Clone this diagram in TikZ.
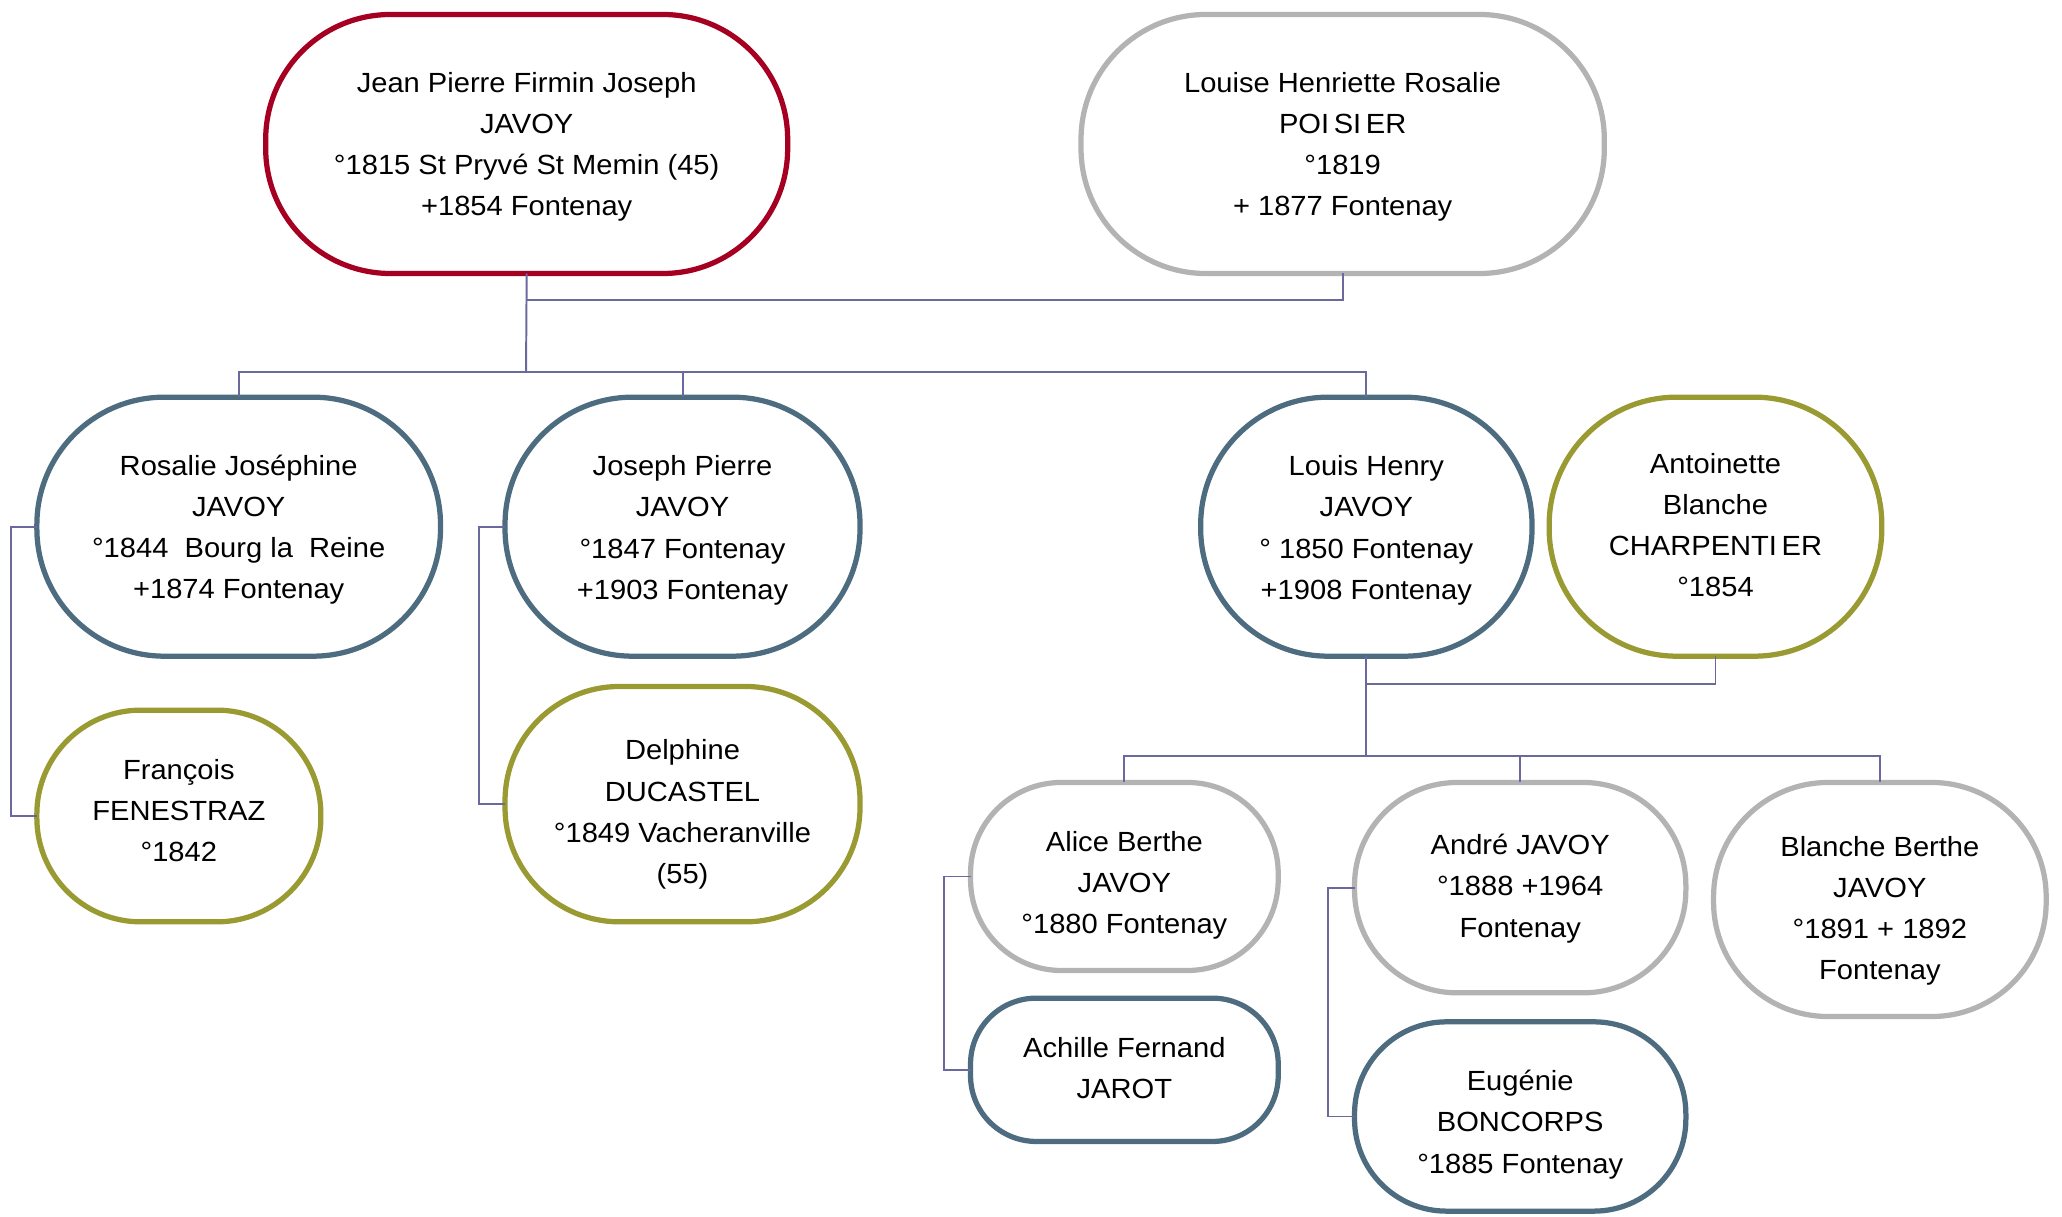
\documentclass[tikz,border=0pt]{standalone}
\usepackage{fontspec}
\setmainfont{Liberation Sans}[FakeStretch=1.05]
\definecolor{cred}{RGB}{165,0,33}
\definecolor{cgray}{RGB}{179,179,179}
\definecolor{cblue}{RGB}{77,108,128}
\definecolor{colive}{RGB}{154,154,51}
\definecolor{cline}{RGB}{107,104,158}
\newcommand\ptxt[2]{\raisebox{#1}[\height][\depth]{\begin{tabular}{@{}c@{}}#2\end{tabular}}}
\tikzset{
  pbox/.style={draw, rectangle, line width=2.27pt, fill=white,
    inner sep=0pt, outer sep=0pt,
    font=\fontsize{12}{17.8}\selectfont, text=black},
  conn/.style={draw=cline, line width=0.85pt}
}
\begin{document}
\begin{tikzpicture}[x=0.02cm, y=-0.02cm]
\useasboundingbox (0,0) rectangle (1568,925);
% generation 1
\node[pbox, draw=cred, minimum width=7.94cm, minimum height=3.94cm, rounded corners=1.9cm] (jean) at (400.5,109.5)
  {\ptxt{-0.03cm}{Jean Pierre Firmin Joseph\\JAVOY\\°1815 St Pryvé St Memin (45)\\+1854 Fontenay}};
\node[pbox, draw=cgray, minimum width=7.96cm, minimum height=3.94cm, rounded corners=1.9cm] (louise) at (1021,109.5)
  {\ptxt{-0.03cm}{Louise Henriette Rosalie\\POI\,SI\,ER\\°1819\\+ 1877 Fontenay}};
% generation 2
\node[pbox, draw=cblue, minimum width=6.14cm, minimum height=3.94cm, rounded corners=1.94cm] (rosalie) at (181.5,400.5)
  {\ptxt{-0.03cm}{Rosalie Joséphine\\JAVOY\\°1844\ \ Bourg la\ \ Reine\\+1874 Fontenay}};
\node[pbox, draw=cblue, minimum width=5.40cm, minimum height=3.94cm, rounded corners=1.94cm] (joseph) at (519,400.5)
  {\ptxt{-0.04cm}{Joseph Pierre\\JAVOY\\°1847 Fontenay\\+1903 Fontenay}};
\node[pbox, draw=cblue, minimum width=5.04cm, minimum height=3.94cm, rounded corners=1.94cm] (louis) at (1039,400.5)
  {\ptxt{-0.04cm}{Louis Henry\\JAVOY\\° 1850 Fontenay\\+1908 Fontenay}};
\node[pbox, draw=colive, minimum width=5.06cm, minimum height=3.94cm, rounded corners=1.94cm] (antoinette) at (1304.5,400.5)
  {\ptxt{0cm}{Antoinette\\Blanche\\CHARPENTI\,ER\\°1854}};
\node[pbox, draw=colive, minimum width=4.32cm, minimum height=3.22cm, rounded corners=1.58cm] (francois) at (136,620.5)
  {\ptxt{0.06cm}{François\\FENESTRAZ\\°1842}};
\node[pbox, draw=colive, minimum width=5.40cm, minimum height=3.58cm, rounded corners=1.74cm] (delphine) at (519,611.5)
  {\ptxt{-0.14cm}{Delphine\\DUCASTEL\\°1849 Vacheranville\\(55)}};
% generation 3
\node[pbox, draw=cgray, minimum width=4.68cm, minimum height=2.86cm, rounded corners=1.38cm] (alice) at (855,666.5)
  {\ptxt{-0.12cm}{Alice Berthe\\JAVOY\\°1880 Fontenay}};
\node[pbox, draw=cblue, minimum width=4.68cm, minimum height=2.18cm, rounded corners=1.0cm] (achille) at (855,813.5)
  {\ptxt{0cm}{Achille Fernand\\JAROT}};
\node[pbox, draw=cgray, minimum width=5.04cm, minimum height=3.20cm, rounded corners=1.56cm] (andre) at (1156,675)
  {\ptxt{0cm}{André JAVOY\\°1888 +1964\\Fontenay}};
\node[pbox, draw=cblue, minimum width=5.04cm, minimum height=2.88cm, rounded corners=1.40cm] (eugenie) at (1156,849)
  {\ptxt{-0.11cm}{Eugénie\\BONCORPS\\°1885 Fontenay}};
\node[pbox, draw=cgray, minimum width=5.06cm, minimum height=3.56cm, rounded corners=1.74cm] (blanche) at (1429.5,684)
  {\ptxt{-0.16cm}{Blanche Berthe\\JAVOY\\°1891 + 1892\\Fontenay}};
% connectors
\coordinate (m1) at (400,228);
\coordinate (bus1) at (400,283);
\coordinate (m2) at (1039,520);
\coordinate (bus2) at (1039,575);
\draw[conn] (louise.south) |- (m1);
\draw[conn] (jean.south) -- (bus1);
\draw[conn] (rosalie.north) |- (louis.north |- bus1) -- (louis.north);
\draw[conn] (joseph.north) -- (joseph.north |- bus1);
\draw[conn] (antoinette.south) |- (m2);
\draw[conn] (louis.south) -- (bus2);
\draw[conn] (alice.north) |- (blanche.north |- bus2) -- (blanche.north);
\draw[conn] (andre.north) -- (andre.north |- bus2);
% spouse brackets
\draw[conn] (rosalie.west) -- (rosalie.west -| 8,0) |- (francois.west);
\draw[conn] (joseph.west) -- (joseph.west -| 364,0) |- (delphine.west);
\draw[conn] (alice.west) -- (alice.west -| 718,0) |- (achille.west);
\draw[conn] (andre.west) -- (andre.west -| 1010,0) |- (eugenie.west);
\end{tikzpicture}
\end{document}
